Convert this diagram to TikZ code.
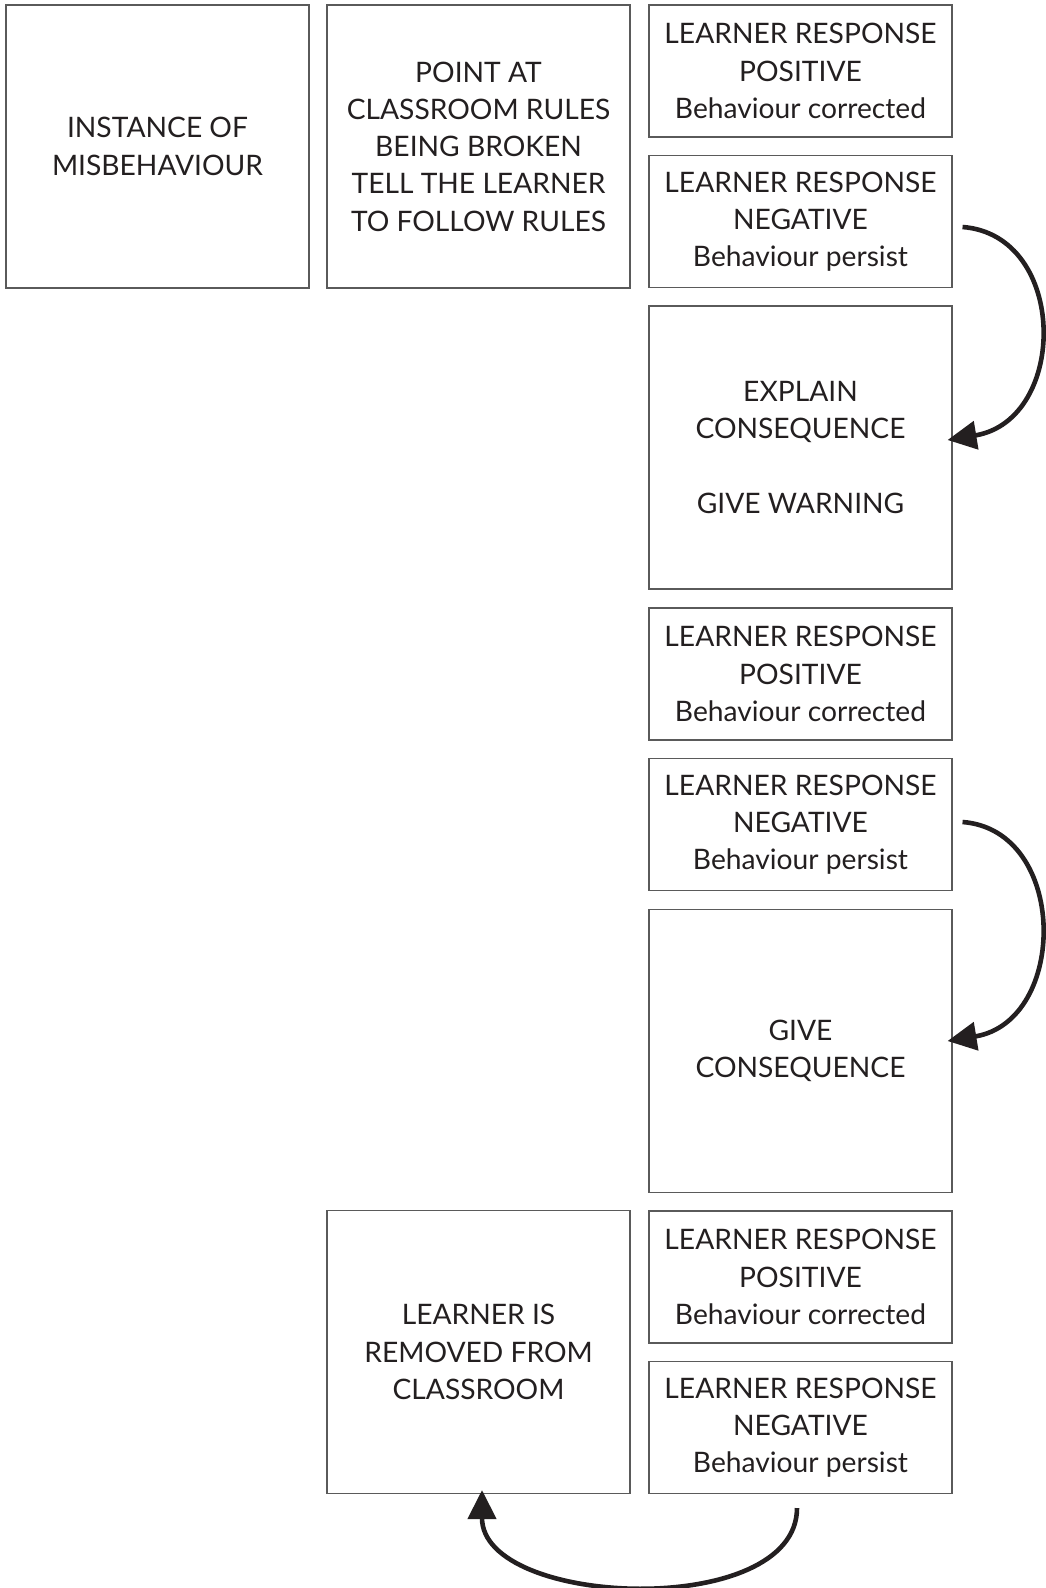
\documentclass[tikz,border=0pt]{standalone}
\usepackage{fontspec}
\setmainfont{Lato}
\usetikzlibrary{arrows.meta,calc}
\definecolor{ink}{HTML}{231F20}
\definecolor{edge}{HTML}{5A5A5A}
\begin{document}
\begin{tikzpicture}[x=1pt,y=-1pt,
  box/.style={draw=edge, line width=1.1pt, rectangle, align=center, text=ink,
    inner sep=0pt, minimum width=303pt,
    font=\fontsize{28.2}{37.3}\selectfont},
  small/.style={box, minimum height=132pt},
  big/.style={box, minimum height=283pt},
  flow/.style={draw=ink, line width=4.6pt, -{Triangle[length=29pt,width=28pt]}}]
\useasboundingbox[fill=white] (0,0) rectangle (1046,1588);

\node[big] (A) at (157.5,146.5) {INSTANCE OF\\MISBEHAVIOUR};
\node[big] (B) at (478.5,146.5) {POINT AT\\CLASSROOM RULES\\BEING BROKEN\\TELL THE LEARNER\\TO FOLLOW RULES};

\node[small] (R1) at (800.5,71) {LEARNER RESPONSE\\POSITIVE\\Behaviour corrected};
\node[small] (R2) at (800.5,221.5) {LEARNER RESPONSE\\NEGATIVE\\Behaviour persist};
\node[big] (E) at (800.5,447.5) {EXPLAIN\\CONSEQUENCE\\\mbox{}\\GIVE WARNING};
\node[small] (R3) at (800.5,674) {LEARNER RESPONSE\\POSITIVE\\Behaviour corrected};
\node[small] (R4) at (800.5,824.5) {LEARNER RESPONSE\\NEGATIVE\\Behaviour persist};
\node[big] (G) at (800.5,1051) {GIVE\\CONSEQUENCE};
\node[small] (R5) at (800.5,1277) {LEARNER RESPONSE\\POSITIVE\\Behaviour corrected};
\node[small] (R6) at (800.5,1427.5) {LEARNER RESPONSE\\NEGATIVE\\Behaviour persist};
\node[big] (L) at (478.5,1352) {LEARNER IS\\REMOVED FROM\\CLASSROOM};

\coordinate (s1) at ($(R2.east)+(10,5.5)$);
\coordinate (e1) at ($(E.east)+(-5,-7.5)$);
\coordinate (s2) at ($(R4.east)+(10,-2.5)$);
\coordinate (e2) at ($(G.east)+(-5,-10)$);
\coordinate (s3) at ($(R6.south)+(-3.5,14)$);
\coordinate (e3) at ($(L.south)+(3.5,-4)$);

\draw[flow] (s1) .. controls +(106,8) and +(121,-20) .. (e1);
\draw[flow] (s2) .. controls +(106,8) and +(121,-20) .. (e2);
\draw[flow] (s3) .. controls +(0,112) and +(0,118) .. (e3);
\end{tikzpicture}
\end{document}
